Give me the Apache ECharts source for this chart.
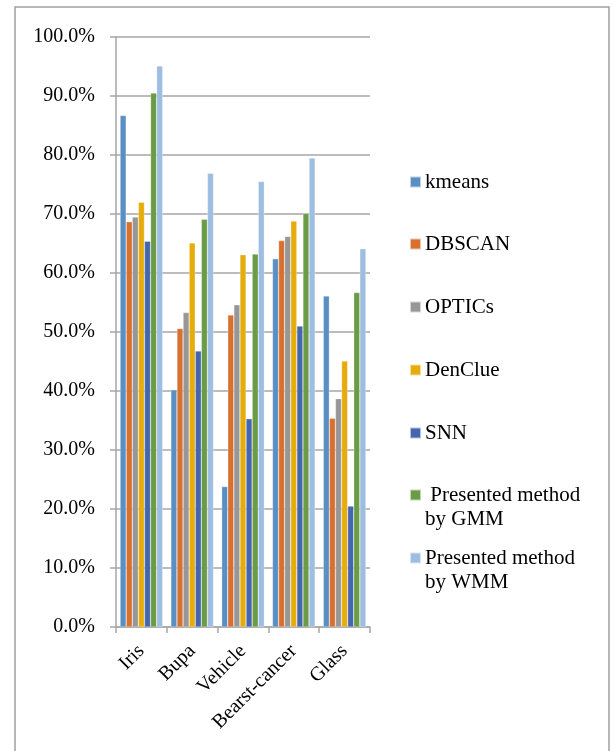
<!DOCTYPE html>
<html>
<head>
<meta charset="utf-8">
<script src="https://cdn.jsdelivr.net/npm/echarts@6/dist/echarts.min.js"></script>
<style>
html,body{margin:0;padding:0;background:#fff;}
#chart{width:614px;height:751px;}
</style>
</head>
<body>
<div id="chart"></div>
<script>
const categories = ['Iris', 'Bupa', 'Vehicle', 'Bearst-cancer', 'Glass'];
const seriesNames = ['kmeans', 'DBSCAN', 'OPTICs', 'DenClue', 'SNN', 'Presented method by GMM', 'Presented method by WMM'];
const legendLabels = ['kmeans', 'DBSCAN', 'OPTICs', 'DenClue', 'SNN', ' Presented method\nby GMM', 'Presented method\nby WMM'];
const kmeans = [86.7, 40.2, 23.8, 62.4, 56.1];
const dbscan = [68.7, 50.6, 52.9, 65.5, 35.4];
const optics = [69.5, 53.3, 54.6, 66.2, 38.7];
const denclue = [72.0, 65.1, 63.1, 68.8, 45.1];
const snn = [65.4, 46.8, 35.3, 51.0, 20.5];
const gmm = [90.5, 69.1, 63.2, 70.1, 56.7];
const wmm = [95.1, 76.9, 75.5, 79.5, 64.1];
const yTicks = [0, 10, 20, 30, 40, 50, 60, 70, 80, 90, 100];

const values = [kmeans, dbscan, optics, denclue, snn, gmm, wmm];
const colors = ['#5A8FC4', '#D8702F', '#979797', '#E6AC0B', '#4466AE', '#6A9B45', '#9DBDE1'];
const legendY = [182, 244, 307, 370, 433, 495, 558];
const font = 'Liberation Serif, Times New Roman, serif';

const chart = echarts.init(document.getElementById('chart'), null, {renderer: 'canvas'});

const legends = seriesNames.map((name, i) => {
  const twoLine = legendLabels[i].indexOf('\n') >= 0;
  return {
    show: true,
    orient: 'vertical',
    left: 409,
    top: twoLine ? legendY[i] - 36 : legendY[i] - 12,
    padding: 0,
    itemWidth: 11,
    itemHeight: 11,
    itemGap: 0,
    icon: 'rect',
    selectedMode: false,
    data: [name],
    formatter: () => (twoLine ? '\n' : '') + legendLabels[i],
    textStyle: {
      fontFamily: font,
      fontSize: 21,
      color: '#000',
      lineHeight: 24,
      padding: [0, 0, 0, -1]
    }
  };
});

const option = {
  backgroundColor: '#fff',
  animation: false,
  color: colors,
  graphic: [{
    type: 'rect',
    shape: {x: 15, y: 7, width: 594, height: 760},
    style: {fill: 'none', stroke: '#A0A0A0', lineWidth: 1.5},
    silent: true
  }],
  grid: {left: 116, top: 37, right: 244, bottom: 124, containLabel: false},
  legend: legends,
  xAxis: {
    type: 'category',
    data: categories,
    axisLine: {show: true, lineStyle: {color: '#A6A6A6', width: 1.5}},
    axisTick: {show: true, alignWithLabel: false, length: 6, lineStyle: {color: '#A6A6A6', width: 1.5}},
    axisLabel: {
      rotate: 45,
      interval: 0,
      margin: 21,
      fontFamily: font,
      fontSize: 20,
      color: '#000'
    }
  },
  yAxis: {
    type: 'value',
    min: 0,
    max: 100,
    interval: 10,
    axisLine: {show: true, lineStyle: {color: '#A6A6A6', width: 1.5}},
    axisTick: {show: true, inside: false, length: 6, lineStyle: {color: '#A6A6A6', width: 1.5}},
    splitLine: {show: true, lineStyle: {color: '#A6A6A6', width: 1.5}},
    axisLabel: {
      margin: 21,
      fontFamily: font,
      fontSize: 20,
      color: '#000',
      formatter: v => yTicks.indexOf(v) >= 0 ? v.toFixed(1) + '%' : ''
    }
  },
  series: seriesNames.map((name, i) => ({
    name: name,
    type: 'bar',
    data: values[i],
    barGap: '0%',
    barCategoryGap: '16%',
    itemStyle: {color: colors[i], borderColor: 'rgba(255,255,255,0.6)', borderWidth: 0.5}
  }))
};
chart.setOption(option);
</script>
</body>
</html>
